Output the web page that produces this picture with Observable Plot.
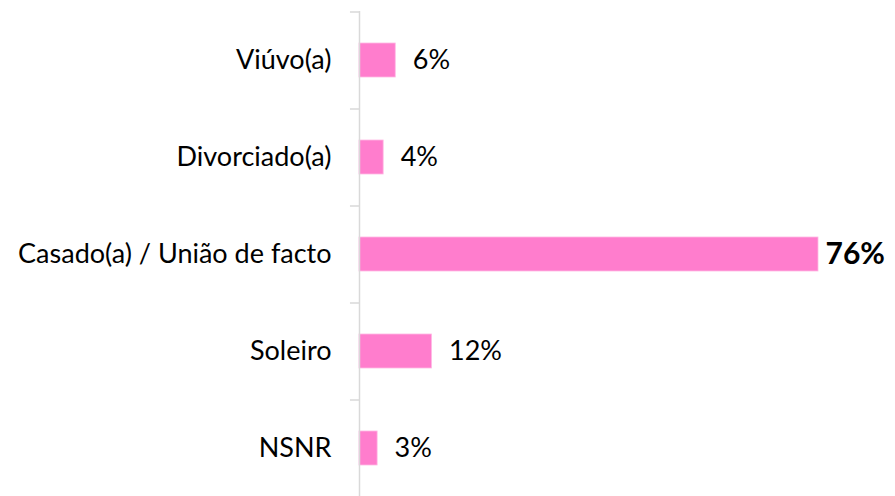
<!DOCTYPE html>
<html>
<head>
<meta charset="utf-8">
<script src="https://cdn.jsdelivr.net/npm/d3@7"></script>
<script src="https://cdn.jsdelivr.net/npm/@observablehq/plot@0.6"></script>
<style>
  html, body { margin: 0; padding: 0; background: #fff; }
  svg { display: block; }
</style>
</head>
<body>
<div id="chart"></div>
<script>
const categories = ["Viúvo(a)", "Divorciado(a)", "Casado(a) / União de facto", "Soleiro", "NSNR"];
const values = [6, 4, 76, 12, 3];
const highlight = ["Casado(a) / União de facto"];

const data = categories.map((c, i) => ({cat: c, v: values[i], hi: highlight.includes(c)}));

const W = 895, H = 496, mTop = 11, mBottom = 0;
const step = (H - mTop - mBottom) / categories.length;
const font = "Lato, 'Open Sans', sans-serif";

const chart = Plot.plot({
  width: W,
  height: H,
  marginLeft: 359,
  marginRight: 77,
  marginTop: mTop,
  marginBottom: mBottom,
  style: {fontFamily: font, background: "#fff"},
  x: {domain: [0, 76], axis: null},
  y: {domain: categories, paddingInner: 0.65, paddingOuter: 0.325, axis: null},
  marks: [
    Plot.barX(data, {y: "cat", x: "v", fill: "#FF7DCD", stroke: "#FFB8E4", strokeWidth: 0.8}),
    Plot.ruleX([0], {stroke: "#d9d9d9", strokeWidth: 1.5}),
    Plot.ruleY(categories, {y: d => d, dy: -step / 2, x1: -1.5, x2: 0, stroke: "#d9d9d9", strokeWidth: 1.5}),
    Plot.ruleY(categories.slice(-1), {y: d => d, dy: step / 2, x1: -1.5, x2: 0, stroke: "#d9d9d9", strokeWidth: 1.5}),
    Plot.axisY({tickSize: 0, tickPadding: 28, fontSize: 27, fill: "#000", label: null}),
    Plot.text(data.filter(d => !d.hi), {y: "cat", x: "v", text: d => d.v + "%", dx: 17, textAnchor: "start", fontSize: 27, fill: "#000"}),
    Plot.text(data.filter(d => d.hi), {y: "cat", x: "v", text: d => d.v + "%", dx: 7, textAnchor: "start", fontSize: 30, fontWeight: "bold", fill: "#000"})
  ]
});
document.getElementById("chart").appendChild(chart);
</script>
</body>
</html>
